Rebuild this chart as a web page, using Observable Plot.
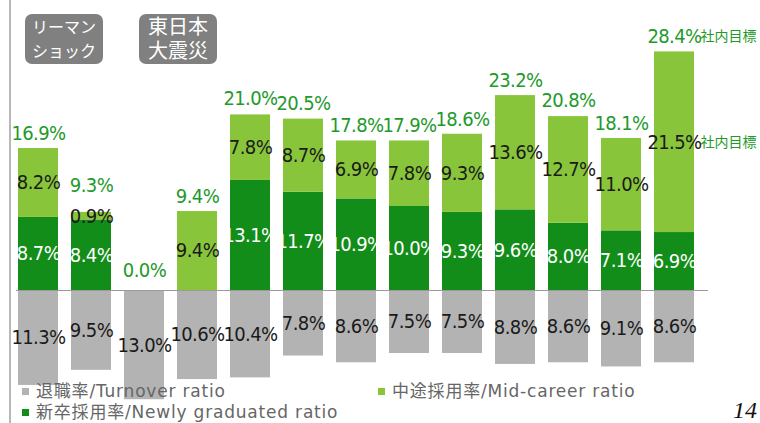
<!DOCTYPE html>
<html>
<head>
<meta charset="utf-8">
<script src="https://cdn.jsdelivr.net/npm/d3@7"></script>
<script src="https://cdn.jsdelivr.net/npm/@observablehq/plot@0.6"></script>
<style>
  html, body { margin: 0; padding: 0; background: #fff; }
  #wrap { position: relative; width: 760px; height: 423px; overflow: hidden; font-family: "Noto Sans CJK JP", sans-serif; }
  #chart { position: absolute; left: 0; top: 0; }
  #chart .num text, #chart text.num, #chart g.num { letter-spacing: -0.6px; }
  .vline { position: absolute; left: 9px; top: 0; width: 2px; height: 423px; background: #b8b8b8; }
  .badge { position: absolute; top: 14px; width: 78px; height: 50px; background: #808080; border-radius: 7px;
           color: #fff; text-align: center; box-sizing: border-box; font-family: "DejaVu Sans", "Noto Sans CJK JP", sans-serif; }
  .badge div { height: 24px; line-height: 24px; white-space: nowrap; }
  .leg { position: absolute; font-size: 17px; color: #666; white-space: nowrap; line-height: 20px; height: 20px;
         font-family: "DejaVu Sans", "Noto Sans CJK JP", sans-serif; letter-spacing: 0.8px; }
  .leg i { display: inline-block; width: 7px; height: 7px; margin-right: 7px; vertical-align: 2px; }
  .page { position: absolute; left: 733px; top: 398px; font-family: "Liberation Serif", serif; font-style: italic; font-size: 24px; line-height: 24px; color: #111; }
</style>
</head>
<body>
<div id="wrap">
  <div class="vline"></div>
  <div id="chart"></div>
  <div class="badge" style="left:25px; font-size:16px; padding-top:2px;"><div>リーマン</div><div>ショック</div></div>
  <div class="badge" style="left:139px; font-size:20px; padding-top:1px;"><div>東日本</div><div>大震災</div></div>
  <div class="leg" style="left:22px; top:381px;"><i style="background:#b3b3b3"></i>退職率/Turnover ratio</div>
  <div class="leg" style="left:378px; top:381px;"><i style="background:#88c53a"></i>中途採用率/Mid-career ratio</div>
  <div class="leg" style="left:22px; top:402px;"><i style="background:#138d1a"></i>新卒採用率/Newly graduated ratio</div>
  <div class="page">14</div>
</div>
<script>
// ---- data ----
const periods   = ["FY1","FY2","FY3","FY4","FY5","FY6","FY7","FY8","FY9","FY10","FY11","FY12","目標"];
const newGrad   = [8.7, 8.4, 0.0, 0.0, 13.1, 11.7, 10.9, 10.0, 9.3, 9.6, 8.0, 7.1, 6.9];
const midCareer = [8.2, 0.9, 0.0, 9.4, 7.8, 8.7, 6.9, 7.8, 9.3, 13.6, 12.7, 11.0, 21.5];
const totals    = [16.9, 9.3, 0.0, 9.4, 21.0, 20.5, 17.8, 17.9, 18.6, 23.2, 20.8, 18.1, 28.4];
const turnover  = [11.3, 9.5, 13.0, 10.6, 10.4, 7.8, 8.6, 7.5, 7.5, 8.8, 8.6, 9.1, 8.6];
const seriesNames = ["new", "mid", "turnover"];
const seriesColors = ["#138d1a", "#88c53a", "#b3b3b3"];
const targetLabel = "社内目標";

// long table for stacking
const rows = [];
periods.forEach((p, i) => {
  rows.push({period: p, type: "new", value: newGrad[i]});
  rows.push({period: p, type: "mid", value: midCareer[i]});
  rows.push({period: p, type: "turnover", value: -turnover[i]});
});
const totalRows = periods.map((p, i) => ({period: p, total: totals[i]}));

const fmt = v => Math.abs(v).toFixed(1) + "%";
const numFont = "'Liberation Sans Narrow', 'DejaVu Sans Condensed', 'Arial Narrow', sans-serif";
const totalStyle = {x: "period", y: "total", text: d => fmt(d.total), fill: "#23992b", fontSize: 20, fontFamily: numFont, className: "num"};
const noteStyle = {fill: "#1f9a26", fontSize: 14, fontFamily: "'Noto Sans CJK JP', sans-serif", textAnchor: "start", dx: 26};

const chart = Plot.plot({
  width: 760,
  height: 423,
  marginLeft: 4,
  marginRight: 52,
  marginTop: 0,
  marginBottom: 0,
  x: {domain: periods, padding: 0.25, axis: null},
  y: {domain: [-15.83, 34.52], axis: null},
  color: {domain: seriesNames, range: seriesColors},
  style: {background: "transparent", overflow: "visible"},
  marks: [
    Plot.barY(rows, Plot.stackY({x: "period", y: "value", z: "type", fill: "type", order: seriesNames})),
    Plot.ruleY([0], {stroke: "#9a9a9a", strokeWidth: 1, insetLeft: 12}),
    // segment labels
    Plot.text(rows, Plot.stackY({
      x: "period", y: "value", z: "type", order: seriesNames,
      text: d => d.value === 0 ? null : fmt(d.value),
      fill: d => d.type === "new" ? "#ffffff" : "#1a1a1a",
      fontSize: 20, fontFamily: numFont, className: "num"
    })),
    // target note next to the mid-career label of the target bar
    Plot.text(rows, Plot.stackY({
      x: "period", y: "value", z: "type", order: seriesNames,
      text: d => (d.period === "目標" && d.type === "mid") ? targetLabel : null,
      ...noteStyle
    })),
    // total labels
    Plot.text(totalRows.filter(d => d.period !== "FY2" && d.period !== "FY3"), {...totalStyle, dy: -15}),
    Plot.text(totalRows.filter(d => d.period === "FY2"), {...totalStyle, dy: -27}),
    Plot.text(totalRows.filter(d => d.period === "FY3"), {...totalStyle, dy: -20}),
    Plot.text(totalRows.filter(d => d.period === "目標"), {
      x: "period", y: "total", text: () => targetLabel, dy: -15, ...noteStyle
    })
  ]
});
document.getElementById("chart").appendChild(chart);
</script>
</body>
</html>
